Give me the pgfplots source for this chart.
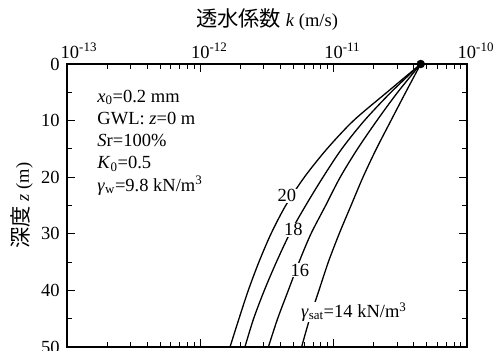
\documentclass[border=0pt]{standalone}
\usepackage{fontspec}
\setmainfont{Liberation Serif}
\newfontfamily\jpfont[Scale=1.15]{Noto Sans CJK JP}
\usepackage{pgfplots}
\pgfplotsset{compat=1.18}

\begin{document}
\fontsize{18.5}{22}\selectfont
\begin{tikzpicture}[font=\fontsize{18.5}{22}\selectfont]
\begin{axis}[
  at={(0,0)}, anchor=south west,
  scale only axis, width=400pt, height=283pt,
  xmode=log, xmin=1e-13, xmax=1e-10,
  ymin=0, ymax=50, y dir=reverse,
  clip=false,
  /pgf/number format/assume math mode=true,
  xtick={1e-13,1e-12,1e-11,1e-10},
  xticklabels={\hspace*{6pt}10\rlap{\textsuperscript{-13}},
               10\rlap{\textsuperscript{-12}},
               10\rlap{\textsuperscript{-11}},
               10\rlap{\textsuperscript{-10}}},
  xticklabel pos=upper,
  xticklabel style={anchor=base, yshift=6pt},
  ytick={0,10,20,30,40,50},
  minor ytick={5,15,25,35,45},
  yticklabel style={xshift=-1pt},
  tick align=inside,
  major tick length=8pt, minor tick length=5pt,
  axis line style={line width=1.1pt},
  every tick/.style={black, line width=0.9pt},
  tick label style={font=\fontsize{18.5}{22}\selectfont},
  xlabel={{\jpfont 透水係数} \textit{k} (m/s)},
  xlabel style={at={(axis description cs:0.5,1)}, anchor=base, yshift=37.5pt},
  ylabel={{\jpfont 深度} \textit{z} (m)},
  ylabel style={at={([xshift=-45pt]axis description cs:0,0.5)}, anchor=center},
]
% gamma_sat = 20 kN/m^3
\addplot[black, line width=1.3pt, smooth] coordinates {
  (4.50e-11,0) (2.51e-11,5) (1.41e-11,10) (8.91e-12,15) (6.03e-12,20)
  (4.37e-12,25) (3.39e-12,30) (2.75e-12,35) (2.29e-12,40) (1.95e-12,45) (1.67e-12,50)};
% gamma_sat = 18 kN/m^3
\addplot[black, line width=1.3pt, smooth] coordinates {
  (4.50e-11,0) (2.69e-11,5) (1.70e-11,10) (1.15e-11,15) (8.32e-12,20)
  (6.17e-12,25) (4.68e-12,30) (3.72e-12,35) (3.02e-12,40) (2.51e-12,45) (2.16e-12,50)};
% gamma_sat = 16 kN/m^3
\addplot[black, line width=1.3pt, smooth] coordinates {
  (4.50e-11,0) (3.02e-11,5) (2.11e-11,10) (1.51e-11,15) (1.12e-11,20)
  (8.71e-12,25) (6.76e-12,30) (5.50e-12,35) (4.57e-12,40) (3.80e-12,45) (3.24e-12,50)};
% gamma_sat = 14 kN/m^3
\addplot[black, line width=1.3pt, smooth] coordinates {
  (4.50e-11,0) (3.47e-11,5) (2.69e-11,10) (2.09e-11,15) (1.66e-11,20)
  (1.35e-11,25) (1.10e-11,30) (9.12e-12,35) (7.76e-12,40) (6.61e-12,45) (5.75e-12,50)};
% surface value
\addplot[only marks, mark=*, mark size=4pt, black] coordinates {(4.50e-11,0)};

% curve labels
\node[fill=white, inner sep=1pt] at (axis cs:4.45e-12,23.3) {20};
\node[fill=white, inner sep=1pt] at (axis cs:4.98e-12,29.3) {18};
\node[fill=white, inner sep=1pt] at (axis cs:5.59e-12,36.4) {16};
\node[fill=white, inner sep=1pt, anchor=west] at (axis cs:5.59e-12,43.8)
  {\textit{γ}\textsubscript{sat}=14 kN/m\textsuperscript{3}};

% conditions
\node[anchor=base west, inner sep=0pt] at (axis description cs:0.0758,0.8657)
  {\textit{x}\textsubscript{0}=0.2 mm};
\node[anchor=base west, inner sep=0pt] at (axis description cs:0.0758,0.7862)
  {GWL: \textit{z}=0 m};
\node[anchor=base west, inner sep=0pt] at (axis description cs:0.0758,0.7078)
  {\textit{S}r=100\%};
\node[anchor=base west, inner sep=0pt] at (axis description cs:0.0758,0.6300)
  {\textit{K}\textsubscript{0}=0.5};
\node[anchor=base west, inner sep=0pt] at (axis description cs:0.0758,0.5512)
  {\textit{γ}\textsubscript{w}=9.8 kN/m\textsuperscript{3}};
\end{axis}
\pgfresetboundingbox
\path[use as bounding box] (-67pt,-4pt) rectangle (429pt,347pt);
\end{tikzpicture}
\end{document}
